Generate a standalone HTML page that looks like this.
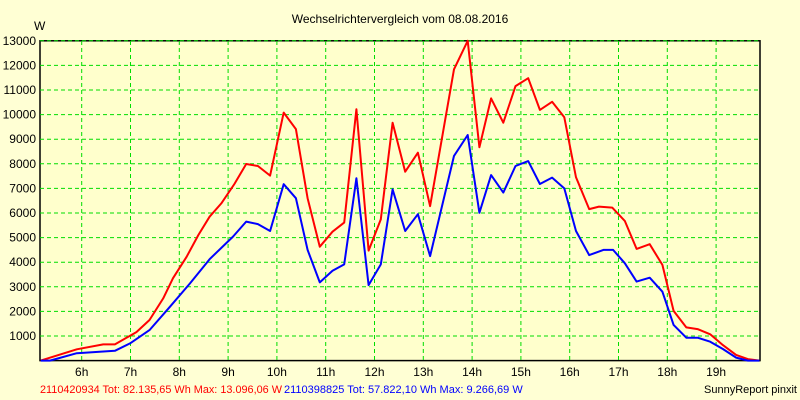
<!DOCTYPE html>
<html><head><meta charset="utf-8"><style>
body{margin:0;background:#ffffd4;}
svg{display:block;font-family:"Liberation Sans",sans-serif;}
</style></head><body>
<svg id="chart" width="800" height="400" viewBox="0 0 800 400">
<rect x="0" y="0" width="800" height="400" fill="#ffffd4"/>
<text x="400" y="23" font-size="12" text-anchor="middle" fill="#000">Wechselrichtervergleich vom 08.08.2016</text>
<text x="34" y="30" font-size="12" fill="#000">W</text>
<rect x="40" y="40.8" width="720" height="319.8" fill="#ffffcc" stroke="#000" stroke-width="1.5"/>
<g id="grid"></g><g id="ticks"></g><g id="series"></g>
<text x="40" y="393" font-size="11" fill="#ff0000" textLength="242" lengthAdjust="spacingAndGlyphs">2110420934 Tot: 82.135,65 Wh Max: 13.096,06 W</text>
<text x="284" y="393" font-size="11" fill="#0000ff">2110398825 Tot: 57.822,10 Wh Max: 9.266,69 W</text>
<text x="797" y="393" font-size="11" fill="#000" text-anchor="end">SunnyReport pinxit</text>
</svg>
<script>
const yTicks=[1000,2000,3000,4000,5000,6000,7000,8000,9000,10000,11000,12000,13000];
const xTicks=[6,7,8,9,10,11,12,13,14,15,16,17,18,19];
const redT=[5.16,5.9,6.44,6.68,7.12,7.39,7.67,7.87,8.15,8.39,8.62,8.86,9.13,9.37,9.61,9.86,10.14,10.39,10.63,10.88,11.14,11.38,11.63,11.88,12.13,12.37,12.63,12.89,13.14,13.63,13.91,14.15,14.39,14.64,14.89,15.15,15.39,15.64,15.89,16.13,16.4,16.6,16.87,17.13,17.37,17.64,17.9,18.13,18.39,18.62,18.88,19.14,19.41,19.65,19.89];
const redV=[0,460,660,660,1160,1650,2530,3350,4220,5100,5850,6390,7180,7990,7910,7520,10080,9410,6600,4630,5240,5610,10220,4470,5740,9670,7680,8450,6280,11840,13000,8670,10660,9670,11160,11480,10190,10520,9890,7450,6160,6260,6220,5680,4540,4730,3890,2020,1350,1280,1070,630,230,60,0];
const blueT=[5.16,5.35,5.9,6.68,6.99,7.39,7.81,8.22,8.62,9.1,9.37,9.61,9.86,10.14,10.39,10.63,10.88,11.14,11.38,11.63,11.88,12.13,12.37,12.63,12.89,13.14,13.63,13.91,14.15,14.39,14.64,14.89,15.15,15.39,15.64,15.89,16.13,16.4,16.69,16.89,17.13,17.37,17.64,17.9,18.13,18.39,18.62,18.88,19.14,19.41,19.65,19.89];
const blueV=[0,0,300,400,700,1240,2190,3140,4120,5040,5650,5550,5270,7170,6600,4500,3180,3650,3910,7410,3070,3910,6960,5270,5950,4250,8320,9170,6010,7540,6830,7910,8110,7180,7440,7000,5270,4290,4500,4500,3960,3210,3370,2800,1450,930,930,770,470,120,0,0];
const NS="http://www.w3.org/2000/svg";
const X=t=>81.7+(t-6)*48.8;
const Y=v=>360.6-v*0.0246;
function mk(tag,attrs,parent){const e=document.createElementNS(NS,tag);for(const k in attrs)e.setAttribute(k,attrs[k]);parent.appendChild(e);return e;}
const grid=document.getElementById('grid'),ticks=document.getElementById('ticks'),series=document.getElementById('series');
yTicks.forEach(v=>{
 const l=mk('line',{x1:40,x2:760,y1:Y(v),y2:Y(v),stroke:'#00dd00','stroke-dasharray':'4,3'},grid);
 
 
 const t=mk('text',{x:36,y:Y(v)+4,'font-size':12,'text-anchor':'end',fill:'#000'},ticks);
 t.textContent=v;
 
 
});
xTicks.forEach(h=>{
 const l=mk('line',{x1:X(h),x2:X(h),y1:41,y2:360,stroke:'#00dd00','stroke-dasharray':'4,3'},grid);
 
 
 const t=mk('text',{x:X(h),y:376,'font-size':12,'text-anchor':'middle',fill:'#000'},ticks);
 t.textContent=h+'h';
 
 
});
function line(T,V,color,name){
 const p=mk('polyline',{points:T.map((t,i)=>X(t).toFixed(1)+','+Y(V[i]).toFixed(1)).join(' '),fill:'none',stroke:color,'stroke-width':2,'stroke-linejoin':'round'},series);
 
 
}
line(redT,redV,'#ff0000','series-2110420934');
line(blueT,blueV,'#0000ff','series-2110398825');
</script>
</body></html>
